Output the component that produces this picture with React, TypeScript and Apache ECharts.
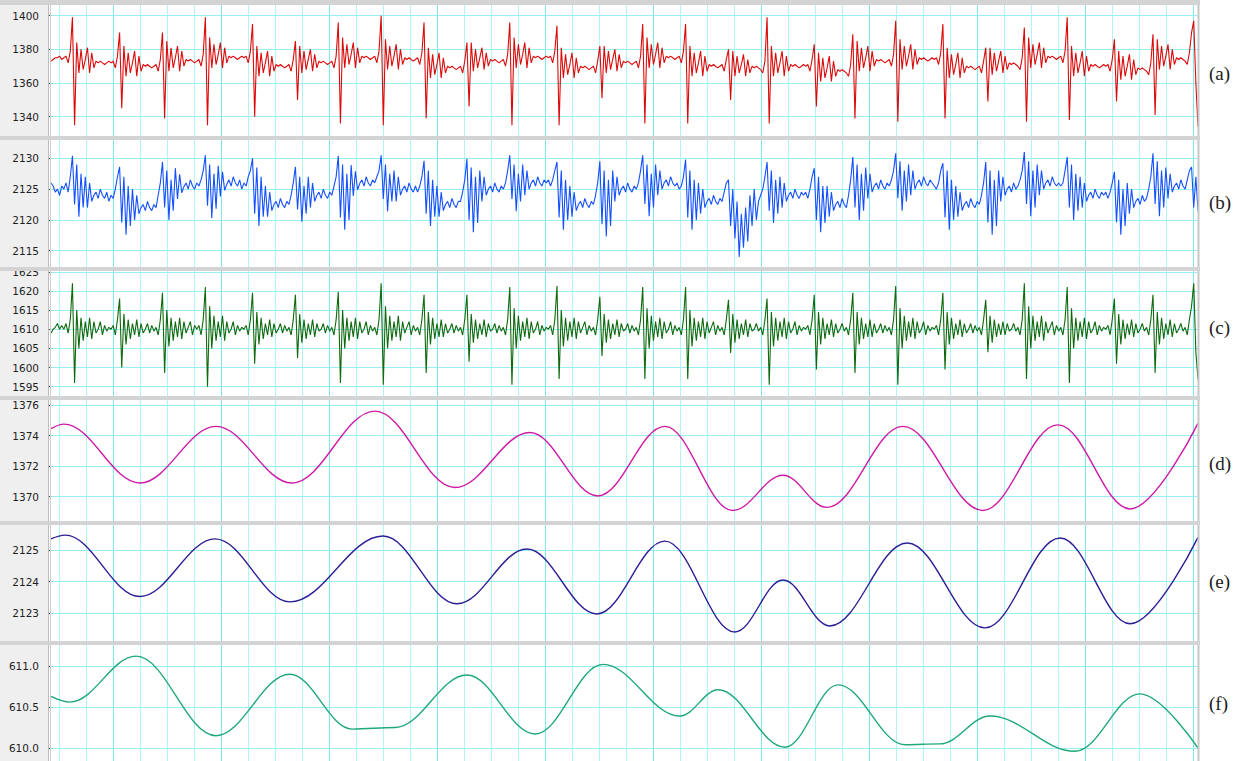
import React, { useEffect, useRef } from "react";
import * as echarts from "echarts";

// (a) red signal, one value per sample
const sigA = [
  1373, 1374, 1375, 1375, 1376, 1374, 1375, 1376, 1372, 1379,
  1399, 1335, 1384, 1366, 1380, 1368, 1374, 1381, 1366, 1378, 1369, 1373, 1372, 1373, 1372, 1371, 1372, 1373, 1372, 1373, 1369, 1376,
  1390, 1345, 1382, 1364, 1378, 1366, 1372, 1379, 1364, 1376, 1367, 1371, 1370, 1371, 1370, 1369, 1370, 1371, 1367, 1374,
  1390, 1339, 1385, 1367, 1381, 1369, 1375, 1382, 1367, 1379, 1370, 1374, 1373, 1374, 1373, 1372, 1373, 1374, 1370, 1377,
  1399, 1335, 1387, 1369, 1383, 1371, 1377, 1384, 1369, 1381, 1372, 1376, 1375, 1376, 1375, 1374, 1375, 1376, 1375, 1376, 1372, 1379,
  1395, 1340, 1382, 1364, 1378, 1366, 1372, 1379, 1364, 1376, 1367, 1371, 1370, 1371, 1370, 1369, 1370, 1371, 1367, 1374,
  1385, 1350, 1382, 1366, 1379, 1368, 1374, 1380, 1367, 1377, 1369, 1373, 1372, 1373, 1372, 1371, 1372, 1373, 1369, 1376,
  1396, 1336, 1387, 1369, 1383, 1371, 1377, 1384, 1369, 1381, 1372, 1376, 1375, 1376, 1375, 1374, 1375, 1376, 1372, 1379,
  1400, 1335, 1386, 1368, 1382, 1370, 1376, 1383, 1368, 1380, 1371, 1375, 1374, 1375, 1374, 1373, 1374, 1375, 1371, 1378,
  1396, 1339, 1381, 1363, 1377, 1365, 1371, 1378, 1363, 1375, 1366, 1370, 1369, 1370, 1369, 1368, 1369, 1370, 1366, 1373,
  1384, 1346, 1384, 1367, 1380, 1369, 1375, 1381, 1368, 1378, 1370, 1374, 1373, 1374, 1373, 1372, 1373, 1374, 1370, 1377,
  1396, 1335, 1387, 1369, 1383, 1371, 1377, 1384, 1369, 1381, 1372, 1376, 1375, 1376, 1375, 1374, 1375, 1376, 1375, 1376, 1372, 1379,
  1394, 1335, 1381, 1363, 1377, 1365, 1371, 1378, 1363, 1375, 1366, 1370, 1369, 1370, 1369, 1368, 1369, 1370, 1366, 1373,
  1382, 1351, 1382, 1366, 1379, 1368, 1374, 1380, 1367, 1377, 1369, 1373, 1372, 1373, 1372, 1371, 1372, 1373, 1369, 1376,
  1395, 1336, 1387, 1369, 1383, 1371, 1377, 1384, 1369, 1381, 1372, 1376, 1375, 1376, 1375, 1374, 1375, 1376, 1372, 1379,
  1395, 1336, 1382, 1364, 1378, 1366, 1372, 1379, 1364, 1376, 1367, 1371, 1370, 1371, 1370, 1369, 1370, 1371, 1367, 1374,
  1380, 1350, 1379, 1364, 1376, 1366, 1371, 1377, 1364, 1374, 1366, 1370, 1369, 1370, 1369, 1368, 1366, 1373,
  1399, 1336, 1382, 1364, 1378, 1366, 1372, 1379, 1364, 1376, 1367, 1371, 1370, 1371, 1370, 1369, 1370, 1371, 1370, 1371, 1367, 1374,
  1383, 1346, 1378, 1361, 1375, 1363, 1369, 1376, 1361, 1373, 1364, 1368, 1367, 1368, 1367, 1366, 1364, 1371,
  1389, 1339, 1385, 1367, 1381, 1369, 1375, 1382, 1367, 1379, 1370, 1374, 1373, 1374, 1373, 1372, 1373, 1374, 1370, 1377,
  1397, 1337, 1386, 1368, 1382, 1370, 1376, 1383, 1368, 1380, 1371, 1375, 1374, 1375, 1374, 1373, 1374, 1375, 1374, 1375, 1371, 1378,
  1395, 1339, 1381, 1363, 1377, 1365, 1371, 1378, 1363, 1375, 1366, 1370, 1369, 1370, 1369, 1368, 1369, 1370, 1366, 1373,
  1381, 1349, 1381, 1365, 1378, 1367, 1373, 1379, 1366, 1376, 1368, 1372, 1371, 1372, 1371, 1370, 1368, 1375,
  1393, 1337, 1387, 1369, 1383, 1371, 1377, 1384, 1369, 1381, 1372, 1376, 1375, 1376, 1375, 1374, 1375, 1376, 1372, 1379,
  1399, 1338, 1382, 1364, 1378, 1366, 1372, 1379, 1364, 1376, 1367, 1371, 1370, 1371, 1370, 1369, 1370, 1371, 1370, 1371, 1367, 1374,
  1386, 1349, 1379, 1362, 1376, 1364, 1370, 1377, 1362, 1374, 1365, 1369, 1368, 1369, 1368, 1367, 1365, 1372,
  1389, 1341, 1386, 1368, 1382, 1370, 1376, 1383, 1368, 1380, 1371, 1375, 1374, 1375, 1374, 1373, 1371, 1378,
  1390, 1397, 1360, 1334,
];

// (b) blue signal
const sigB = [
  2126, 2125.5, 2124.5, 2125, 2124, 2125.5, 2125, 2126, 2124.5, 2127,
  2130.4, 2122.5, 2129, 2120.5, 2127.5, 2122, 2127, 2122, 2126, 2123, 2124, 2124.5, 2123.5, 2125, 2124, 2123.5, 2124.5, 2123, 2124, 2123.5, 2125, 2127,
  2128.6, 2119.6, 2127, 2117.6, 2125.5, 2119, 2125, 2120, 2124, 2121, 2122, 2122.5, 2121.5, 2123, 2122, 2121.5, 2122.5, 2122, 2124, 2126,
  2129.4, 2122, 2128, 2120, 2126.5, 2121.5, 2128.4, 2123.4, 2127.4, 2124.4, 2125.4, 2126, 2125, 2126.5, 2125.5, 2125, 2126, 2125.5, 2126.5, 2128,
  2130.5, 2122.3, 2129, 2120.3, 2127.5, 2121.8, 2128.8, 2123.8, 2127.8, 2124.8, 2125.8, 2126.5, 2125.5, 2127, 2126, 2125.5, 2126.5, 2125, 2126, 2125.5, 2127, 2128,
  2130, 2121, 2128.5, 2119, 2127, 2120.5, 2125.5, 2120.5, 2124.5, 2121.5, 2122.5, 2123, 2122, 2123.5, 2122.5, 2122, 2123, 2122.5, 2124, 2126,
  2128.6, 2121.7, 2127, 2119.7, 2125.5, 2121, 2127, 2122, 2126, 2123, 2124, 2124.5, 2123.5, 2125, 2124, 2123.5, 2124.5, 2124, 2125.5, 2127,
  2130.4, 2120.4, 2129, 2118.4, 2127.5, 2120, 2128.9, 2123.9, 2127.9, 2124.9, 2125.9, 2126.5, 2125.5, 2127, 2126, 2125.5, 2126.5, 2126, 2127, 2128,
  2130.5, 2123.4, 2129, 2121.4, 2127.5, 2123, 2128, 2123, 2127, 2124, 2125, 2125.5, 2124.5, 2126, 2125, 2124.5, 2125.5, 2124.5, 2125.5, 2127,
  2129.6, 2121, 2128, 2119, 2126.5, 2120.5, 2125.5, 2120.5, 2124.5, 2121.5, 2122.5, 2123, 2122, 2123.5, 2122.5, 2122, 2123, 2123, 2124.5, 2126.5,
  2129.9, 2120, 2128.5, 2118, 2127, 2119.5, 2128, 2123, 2127, 2124, 2125, 2125.5, 2124.5, 2126, 2125, 2124.5, 2125.5, 2125, 2126, 2128,
  2130.5, 2123.4, 2129, 2121.4, 2127.5, 2123, 2129, 2124, 2128, 2125, 2126, 2126.5, 2125.5, 2127, 2126, 2125.5, 2126.5, 2126, 2126.5, 2125.5, 2126.5, 2128,
  2129.4, 2120.4, 2128, 2118.4, 2126.5, 2120, 2125.5, 2120.5, 2124.5, 2121.5, 2122.5, 2123, 2122, 2123.5, 2122.5, 2122, 2123, 2122.5, 2124, 2126,
  2129.5, 2119.3, 2128, 2117.3, 2126.5, 2119, 2128, 2123, 2127, 2124, 2125, 2125.5, 2124.5, 2126, 2125, 2124.5, 2125.5, 2125, 2126, 2128,
  2130.5, 2122.6, 2129, 2120.6, 2127.5, 2122, 2129, 2124, 2128, 2125, 2126, 2126.5, 2125.5, 2127, 2126, 2125.5, 2126, 2125, 2125.5, 2127,
  2129.8, 2120.4, 2128, 2118.4, 2126.5, 2120, 2126, 2121, 2125, 2122, 2123, 2123.5, 2122.5, 2124, 2123, 2122.5, 2123.5, 2123, 2124.5, 2126,
  2126.5, 2119, 2125, 2117, 2123, 2114, 2121, 2115.5, 2122, 2116.5, 2124, 2119, 2125, 2120, 2123, 2124, 2125, 2127,
  2129.4, 2121.5, 2128, 2119.5, 2126.5, 2121, 2127, 2122, 2126, 2123, 2124, 2124.5, 2123.5, 2125, 2124, 2123.5, 2124.5, 2124, 2124.5, 2123.5, 2125, 2127,
  2128.4, 2120, 2127, 2118, 2125.5, 2119.5, 2125.5, 2120.5, 2124.5, 2121.5, 2122.5, 2123, 2122, 2123.5, 2122.5, 2122, 2124, 2126.5,
  2130.2, 2122, 2129, 2120, 2127.5, 2121.5, 2128.5, 2123.5, 2127.5, 2124.5, 2125.5, 2126, 2125, 2126.5, 2125.5, 2125, 2126, 2125.5, 2126.5, 2128,
  2130.8, 2123.5, 2129.5, 2121.5, 2128, 2123, 2129, 2124, 2128, 2125, 2126, 2126.5, 2125.5, 2127, 2126, 2125.5, 2126.5, 2126, 2125.5, 2125, 2126, 2128,
  2129.2, 2120.4, 2128, 2118.4, 2126.5, 2120, 2125.5, 2120.5, 2124.5, 2121.5, 2122.5, 2123, 2122, 2123.5, 2122.5, 2122, 2123, 2122.5, 2124, 2126,
  2129.4, 2119.6, 2128, 2117.6, 2126.5, 2119, 2128, 2123, 2127, 2124, 2125, 2125.5, 2124.5, 2126, 2125, 2125.5, 2126.5, 2128,
  2131, 2122.6, 2129.5, 2120.6, 2128, 2122, 2129, 2124, 2128, 2125, 2126, 2126.5, 2125.5, 2127, 2126, 2125.5, 2126, 2125.5, 2126, 2128,
  2130.2, 2122, 2129, 2120, 2127.5, 2121.5, 2127, 2122, 2126, 2123, 2124, 2124.5, 2123.5, 2125, 2124, 2123.5, 2124.5, 2124, 2124.5, 2123.5, 2124.5, 2126,
  2127.8, 2119.6, 2126.5, 2117.6, 2125, 2119, 2126, 2121, 2125, 2122, 2123, 2123.5, 2122.5, 2124, 2123, 2123.5, 2125, 2127,
  2130.8, 2122.6, 2129.5, 2120.6, 2128, 2122, 2128.5, 2123.5, 2127.5, 2124.5, 2125.5, 2126, 2125, 2126.5, 2125.5, 2125, 2126.5, 2128,
  2128.6, 2122, 2127, 2121.5,
];

// (c) green signal
const sigC = [
  1609, 1610, 1610.5, 1611.5, 1610, 1611, 1610, 1611.5, 1609, 1612.5,
  1622, 1596, 1615, 1605, 1613, 1607, 1612, 1608, 1613, 1607.5, 1612, 1609, 1610, 1612, 1608.5, 1611, 1609.5, 1610.5, 1610, 1611, 1608.5, 1612.5,
  1618, 1600, 1614, 1606, 1612.5, 1607.5, 1611.5, 1608.5, 1612.5, 1608, 1611.5, 1609, 1610, 1611.5, 1609, 1611, 1609.5, 1610.5, 1608.5, 1612.5,
  1619.5, 1598.6, 1615, 1605.5, 1613, 1607, 1612, 1608, 1613, 1607.5, 1612, 1609, 1610.5, 1612, 1608.5, 1611, 1610, 1611, 1608.5, 1612.5,
  1621, 1595, 1616, 1605, 1613.5, 1607, 1612, 1608, 1613.5, 1607, 1612, 1609, 1610, 1612, 1608.5, 1611, 1609.5, 1610.5, 1610, 1611, 1608.5, 1612.5,
  1619.5, 1601, 1614.5, 1606, 1613, 1607.5, 1611.5, 1608.5, 1612.5, 1608, 1611.5, 1609, 1610, 1611.5, 1609, 1611, 1609.5, 1610.5, 1608.5, 1612.5,
  1619, 1602.5, 1614, 1606.5, 1612.5, 1607.5, 1611.5, 1608.5, 1612.5, 1608, 1611.5, 1609.5, 1610, 1611.5, 1609, 1611, 1609.5, 1610.5, 1608.5, 1612.5,
  1619.8, 1596, 1615, 1605, 1613, 1607, 1612, 1608, 1613, 1607.5, 1612, 1609, 1610, 1612, 1608.5, 1611, 1609.5, 1610.5, 1608.5, 1612.5,
  1622, 1595.5, 1616, 1605, 1613.5, 1607, 1612, 1608, 1613.5, 1607, 1612, 1609, 1610.5, 1612, 1608.5, 1611, 1609.5, 1610.5, 1608.5, 1612.5,
  1619, 1598.6, 1614.5, 1606, 1613, 1607.5, 1611.5, 1608, 1612.5, 1608, 1611.5, 1609, 1610, 1611.5, 1609, 1611, 1609.5, 1610.5, 1608.5, 1612.5,
  1619, 1601.5, 1614, 1606.5, 1612.5, 1607.5, 1611.5, 1608.5, 1612.5, 1608, 1611.5, 1609.5, 1610, 1611.5, 1609, 1611, 1609.5, 1610.5, 1608.5, 1612.5,
  1621, 1595.5, 1615.5, 1605, 1613.5, 1607, 1612, 1608, 1613, 1607.5, 1612, 1609, 1610, 1612, 1608.5, 1611, 1609.5, 1610.5, 1610, 1611, 1608.5, 1612.5,
  1621.3, 1597, 1615, 1605.5, 1613, 1607, 1612, 1608, 1613, 1607.5, 1612, 1609, 1610.5, 1612, 1608.5, 1611, 1609.5, 1610.5, 1608.5, 1612.5,
  1618.5, 1603, 1614, 1606.5, 1612.5, 1607.5, 1611.5, 1608.5, 1612.5, 1608, 1611.5, 1609.5, 1610, 1611.5, 1609, 1611, 1609.5, 1610.5, 1608.5, 1612.5,
  1621, 1597, 1615.5, 1605, 1613.5, 1607, 1612, 1608, 1613, 1607.5, 1612, 1609, 1610, 1612, 1608.5, 1611, 1609.5, 1610.5, 1608.5, 1612.5,
  1621, 1597, 1615, 1605.5, 1613, 1607, 1612, 1608, 1613, 1607.5, 1612, 1609, 1610.5, 1612, 1608.5, 1611, 1609.5, 1610.5, 1608.5, 1612.5,
  1617.7, 1603.8, 1614, 1606.5, 1612.5, 1607.5, 1611.5, 1608.5, 1612.5, 1608, 1611.5, 1609.5, 1610, 1611.5, 1609.5, 1610.5, 1608.5, 1612.5,
  1618, 1595.5, 1614.5, 1605.5, 1613, 1607, 1612, 1608, 1613, 1607.5, 1612, 1609, 1610, 1612, 1608.5, 1611, 1609.5, 1610.5, 1610, 1611, 1608.5, 1612.5,
  1619, 1599.5, 1614.5, 1606, 1613, 1607.5, 1611.5, 1608.5, 1612.5, 1608, 1611.5, 1609, 1610, 1611.5, 1609.5, 1610.5, 1608.5, 1612.5,
  1619.5, 1598.6, 1614.5, 1606, 1613, 1607.5, 1611.5, 1608, 1612.5, 1608, 1611.5, 1609, 1610, 1611.5, 1609, 1611, 1609.5, 1610.5, 1608.5, 1612.5,
  1621.3, 1595.5, 1615.5, 1605, 1613.5, 1607, 1612, 1608, 1613, 1607.5, 1612, 1609, 1610, 1612, 1608.5, 1611, 1609.5, 1610.5, 1610, 1611, 1608.5, 1612.5,
  1619.5, 1599.5, 1614.5, 1606, 1613, 1607.5, 1611.5, 1608.5, 1612.5, 1608, 1611.5, 1609, 1610, 1611.5, 1609, 1611, 1609.5, 1610.5, 1608.5, 1612.5,
  1617.7, 1604, 1613.5, 1606.5, 1612.5, 1608, 1611.5, 1608.5, 1612, 1608.5, 1611.5, 1609.5, 1610, 1611.5, 1609.5, 1610.5, 1608.5, 1612.5,
  1622, 1597, 1616, 1605, 1613.5, 1607, 1612, 1608, 1613.5, 1607, 1612, 1609, 1610.5, 1612, 1608.5, 1611, 1609.5, 1610.5, 1608.5, 1612.5,
  1621, 1596, 1615.5, 1605, 1613, 1607, 1612, 1608, 1613, 1607.5, 1612, 1609, 1610, 1612, 1608.5, 1611, 1609.5, 1610.5, 1610, 1611, 1608.5, 1612.5,
  1618, 1601, 1614, 1606, 1612.5, 1607.5, 1611.5, 1608.5, 1612.5, 1608, 1611.5, 1609, 1610, 1611.5, 1609.5, 1610.5, 1608.5, 1612.5,
  1619, 1598.6, 1614.5, 1606, 1613, 1607.5, 1611.5, 1608.5, 1612.5, 1608, 1611.5, 1609, 1610, 1611.5, 1609.5, 1610.5, 1608.5, 1612.5,
  1616, 1622, 1604, 1597,
];

// smooth curves: time positions (0..267 spans the full width) and values
const dIdx = [0, 3.0, 20.7, 38.4, 56.1, 75.4, 94.0, 111.5, 127.3, 142.9, 158.7, 170.4, 180.6, 198.3, 216.9, 234.4, 251.2, 267];
const dVal = [1374.45, 1374.75, 1370.9, 1374.6, 1370.9, 1375.6, 1370.6, 1374.2, 1370.05, 1374.6, 1369.1, 1371.4, 1369.3, 1374.6, 1369.1, 1374.7, 1369.2, 1374.8];

const eIdx = [0, 3.3, 20.7, 38.2, 55.6, 77.3, 94.5, 110.8, 127.1, 142.9, 159.2, 170.4, 181.3, 199.3, 217.4, 234.9, 251.2, 267];
const eVal = [2125.35, 2125.47, 2123.53, 2125.35, 2123.36, 2125.44, 2123.3, 2125.03, 2122.98, 2125.28, 2122.41, 2124.05, 2122.6, 2125.22, 2122.54, 2125.38, 2122.67, 2125.4];

const fIdx = [0, 4.4, 19.8, 38.4, 55.6, 70.1, 80.1, 96.8, 112.7, 128.5, 146.4, 155.3, 170.9, 183.2, 198.8, 206.9, 218.6, 238.4, 253.5, 267];
const fVal = [610.63, 610.56, 611.12, 610.15, 610.9, 610.23, 610.25, 610.89, 610.17, 611.02, 610.39, 610.71, 610.01, 610.77, 610.04, 610.05, 610.39, 609.96, 610.66, 610.0];

const panelLabels = ["(a)", "(b)", "(c)", "(d)", "(e)", "(f)"];
const yMins = [1340, 2115, 1595, 1370, 2123, 610.0];
const yMaxs = [1400, 2130, 1625, 1376, 2125, 611.0];
const yIntervals = [20, 5, 5, 2, 1, 0.5];
const yDecimals = [0, 0, 0, 0, 0, 1];

// layout (pixels)
const gridTops = [15.7, 158.3, 271.8, 405, 550, 666];
const gridBottoms = [116.7, 250.7, 386.7, 496.7, 613.3, 748];
const labelYs = [73, 202, 327, 463, 581, 703];
const bands = [[0, 5], [136, 140], [267, 271], [396, 400], [521, 525], [641, 645]];
const colors = ["#dc0a0a", "#1450ff", "#0f6a0f", "#d01aa6", "#2b1f96", "#1fa87a"];
const CURVE_MAX = 267;

function buildOption() {
  const grids: any[] = [];
  const xAxes: any[] = [];
  const yAxes: any[] = [];
  const series: any[] = [];
  const seriesData = [
    sigA.map((v, i) => [i, v]),
    sigB.map((v, i) => [i, v]),
    sigC.map((v, i) => [i, v]),
    dIdx.map((x, i) => [x, dVal[i]]),
    eIdx.map((x, i) => [x, eVal[i]]),
    fIdx.map((x, i) => [x, fVal[i]]),
  ];
  const xMaxes = [sigA.length - 1, sigB.length - 1, sigC.length - 1, CURVE_MAX, CURVE_MAX, CURVE_MAX];
  for (let k = 0; k < 6; k++) {
    grids.push({ left: 51, width: 1147, top: gridTops[k], height: gridBottoms[k] - gridTops[k] });
    xAxes.push({ gridIndex: k, type: "value", min: 0, max: xMaxes[k], show: false });
    const dec = yDecimals[k];
    yAxes.push({
      gridIndex: k,
      type: "value",
      min: yMins[k],
      max: yMaxs[k],
      interval: yIntervals[k],
      offset: 4,
      z: 2,
      axisLine: { show: false },
      axisTick: { show: true, length: 3, lineStyle: { color: "#333", width: 1 } },
      axisLabel: {
        margin: 8,
        fontFamily: "DejaVu Sans",
        fontSize: 10.5,
        color: "#1e1e1e",
        formatter: (v: number) => v.toFixed(dec),
      },
      splitLine: { show: true, lineStyle: { color: "#98eef3", width: 1 } },
    });
    const smooth = k >= 3;
    series.push({
      type: "line",
      xAxisIndex: k,
      yAxisIndex: k,
      data: seriesData[k],
      showSymbol: false,
      symbol: "none",
      clip: false,
      z: 3,
      smooth: smooth ? 0.37 : false,
      smoothMonotone: smooth ? "x" : undefined,
      lineStyle: { color: colors[k], width: smooth ? 1.4 : 1.1 },
    });
  }
  // background grid for the vertical lines
  grids.push({ left: 5, width: 1188, top: 0, height: 761 });
  xAxes.push({
    gridIndex: 6,
    type: "value",
    min: 0,
    max: 1188,
    interval: 108,
    z: 0,
    axisLine: { show: false },
    axisTick: { show: false },
    axisLabel: { show: false },
    splitLine: { show: true, lineStyle: { color: "#7ce9ef", width: 1 } },
    minorTick: { show: false, splitNumber: 4 },
    minorSplitLine: { show: true, lineStyle: { color: "#b2f3f6", width: 1 } },
  });
  yAxes.push({ gridIndex: 6, type: "value", show: false });

  const graphics: any[] = [
    { type: "rect", shape: { x: 0, y: 0, width: 48, height: 761 }, style: { fill: "#efefef" }, z: 1, silent: true },
    { type: "rect", shape: { x: 1199, y: 0, width: 46, height: 761 }, style: { fill: "#ffffff" }, z: 9, silent: true },
    { type: "line", shape: { x1: 48.5, y1: 0, x2: 48.5, y2: 761 }, style: { stroke: "#bdbdbd", lineWidth: 1 }, z: 10, silent: true },
    { type: "line", shape: { x1: 50.5, y1: 0, x2: 50.5, y2: 761 }, style: { stroke: "#d0d0d0", lineWidth: 1 }, z: 10, silent: true },
    { type: "rect", shape: { x: 1197.5, y: 0, width: 2, height: 761 }, style: { fill: "#c6c6c6" }, z: 10, silent: true },
  ];
  bands.forEach(([y0, y1]) => {
    graphics.push({ type: "rect", shape: { x: 0, y: y0, width: 1200, height: y1 - y0 }, style: { fill: "#d3d3d3" }, z: 10, silent: true });
  });
  panelLabels.forEach((t, k) => {
    graphics.push({
      type: "text",
      x: 1209,
      y: labelYs[k],
      z: 10,
      silent: true,
      style: { text: t, fill: "#1a1a1a", font: '19px "Liberation Serif"', align: "left", verticalAlign: "middle" },
    });
  });

  return {
    animation: false,
    backgroundColor: "#ffffff",
    grid: grids,
    xAxis: xAxes,
    yAxis: yAxes,
    series,
    graphic: { elements: graphics },
  };
}

export default function App() {
  const ref = useRef<HTMLDivElement>(null);
  useEffect(() => {
    document.body.style.margin = "0";
    const chart = echarts.init(ref.current!, null, { renderer: "svg" });
    chart.setOption(buildOption() as any);
    return () => chart.dispose();
  }, []);
  return <div ref={ref} style={{ position: "absolute", left: 0, top: 0, width: 1245, height: 761 }} />;
}
